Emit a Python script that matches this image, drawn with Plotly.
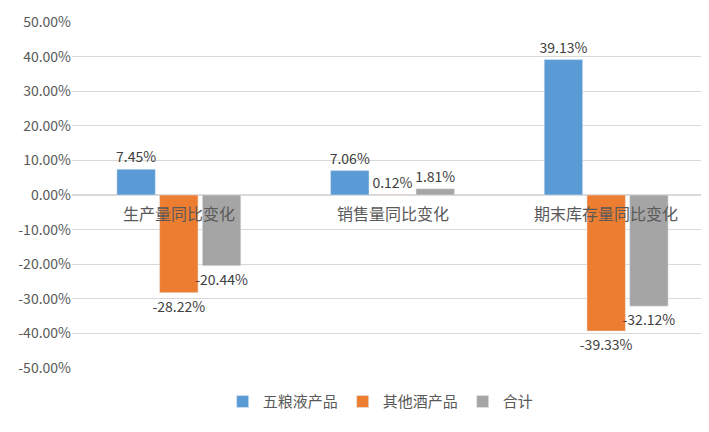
import plotly.graph_objects as go

categories = ["生产量同比变化", "销售量同比变化", "期末库存量同比变化"]
series_names = ["五粮液产品", "其他酒产品", "合计"]
wuliangye = [7.45, 7.06, 39.13]
other = [-28.22, 0.12, -39.33]
total = [-20.44, 1.81, -32.12]
colors = ["#5B9BD5", "#ED7D31", "#A5A5A5"]
tick_vals = list(range(-50, 51, 10))
tick_text = ["%.2f%%" % v for v in tick_vals]

fig = go.Figure()
for name, vals, c in zip(series_names, [wuliangye, other, total], colors):
    fig.add_trace(go.Bar(
        x=categories, y=vals, name=name, marker_color=c,
        text=["%.2f%%" % v for v in vals], textposition="outside",
        textfont=dict(size=14, color="#404040"), cliponaxis=False,
    ))

for cat in categories:
    fig.add_annotation(x=cat, y=0, yref="y", yanchor="top", yshift=-4,
                       text=cat, showarrow=False,
                       font=dict(size=16, color="#595959"))

fig.update_layout(
    width=709, height=432,
    margin=dict(l=64, r=4, t=14, b=72),
    plot_bgcolor="white", paper_bgcolor="white",
    font=dict(family="Noto Sans CJK SC", color="#595959"),
    barmode="group", bargap=0.4, bargroupgap=0.1,
    uniformtext=dict(minsize=14, mode="show"),
    legend=dict(orientation="h", x=0.235, xanchor="left", y=-0.05,
                yanchor="top", font=dict(size=15)),
    showlegend=True,
)
fig.update_xaxes(showticklabels=False, showline=False)
fig.update_yaxes(range=[-50, 50], tickvals=tick_vals, ticktext=tick_text,
                 showgrid=True, gridcolor="#D9D9D9", zeroline=True,
                 zerolinecolor="#D9D9D9", tickfont=dict(size=14))
fig.write_html("out.html")
